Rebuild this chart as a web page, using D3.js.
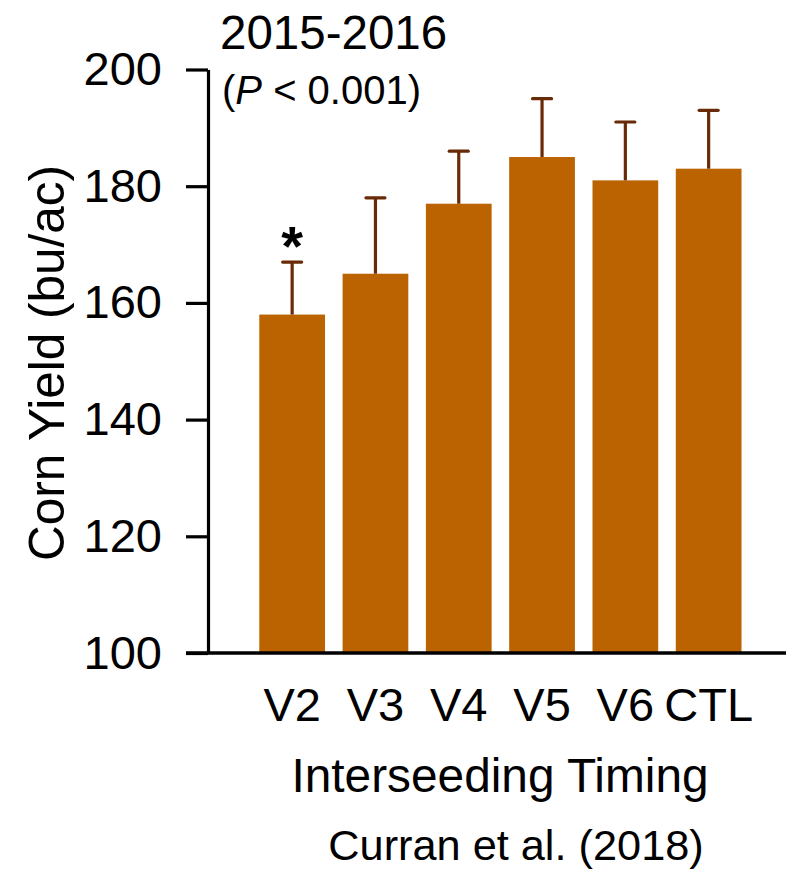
<!DOCTYPE html>
<html><head><meta charset="utf-8">
<script src="https://cdn.jsdelivr.net/npm/d3@7"></script>
<style>body{margin:0;background:#fff}svg{display:block}text{font-family:"Liberation Sans",Arial,sans-serif}</style>
</head><body><svg id="c" width="786" height="871"></svg>
<script>
const categories = ["V2","V3","V4","V5","V6","CTL"];
const yieldMeans = [158,165,177,185,181,183];
const errorUpper = [167,178,186,195,191,193];
const significant = [true,false,false,false,false,false];
const yTicks = [100,120,140,160,180,200];

const svg = d3.select("#c");
const axisX = 208, plotTop = 69.5, base = 653;
const y = d3.scaleLinear().domain([100,200]).range([base, plotTop]);
const x = d3.scaleBand().domain(categories).range([250.5, 750.3]).paddingInner(0.211).paddingOuter(0.1055);

const barColor = "#BB6301", errColor = "#692A07";

// bars
svg.append("g").selectAll("rect").data(categories).join("rect")
  .attr("x", d => x(d)).attr("width", x.bandwidth())
  .attr("y", (d,i) => y(yieldMeans[i])).attr("height", (d,i) => base - y(yieldMeans[i]))
  .attr("fill", barColor);

// error bars
const eg = svg.append("g").attr("stroke", errColor).attr("stroke-width", 3.2);
categories.forEach((c,i) => {
  const cx = x(c) + x.bandwidth()/2;
  eg.append("line").attr("x1", cx).attr("x2", cx).attr("y1", y(yieldMeans[i])).attr("y2", y(errorUpper[i]));
  eg.append("line").attr("x1", cx-9.5).attr("x2", cx+9.5).attr("y1", y(errorUpper[i])).attr("y2", y(errorUpper[i])).attr("stroke-linecap","round");
  if (significant[i]) {
    svg.append("text").attr("x", cx).attr("y", y(errorUpper[i]) + 3)
      .attr("text-anchor","middle").attr("font-size", 56).attr("font-weight","bold").text("*");
  }
});

// y axis
const ya = svg.append("g").attr("transform", `translate(${axisX},0)`)
  .call(d3.axisLeft(y).tickValues(yTicks).tickSize(22).tickSizeOuter(0).tickPadding(24));
ya.select(".domain").attr("stroke","#000").attr("stroke-width",3.2);
ya.selectAll(".tick line").attr("stroke","#000").attr("stroke-width",3.2);
ya.selectAll(".tick text").attr("font-size",47).attr("fill","#000").attr("font-family","Liberation Sans, Arial, sans-serif");

// x axis line
svg.append("line").attr("x1", axisX-22).attr("x2", 786).attr("y1", base).attr("y2", base)
  .attr("stroke","#000").attr("stroke-width",3.5);

// x tick labels
const xa = svg.append("g").attr("transform", `translate(0,${base})`)
  .call(d3.axisBottom(x).tickSize(0).tickPadding(34.5));
xa.select(".domain").remove();
xa.selectAll(".tick text").attr("font-size",47).attr("fill","#000").attr("font-family","Liberation Sans, Arial, sans-serif");

// titles
svg.append("text").attr("x",220).attr("y",49).attr("font-size",47.5).text("2015-2016");
const pt = svg.append("text").attr("x",222).attr("y",103.5).attr("font-size",40);
pt.append("tspan").text("(");
pt.append("tspan").attr("font-style","italic").text("P");
pt.append("tspan").text(" < 0.001)");

svg.append("text").attr("transform","translate(64,363) rotate(-90)").attr("text-anchor","middle")
  .attr("font-size",49.5).text("Corn Yield (bu/ac)");
svg.append("text").attr("x",500).attr("y",792).attr("text-anchor","middle").attr("font-size",47.8).text("Interseeding Timing");
svg.append("text").attr("x",516).attr("y",860).attr("text-anchor","middle").attr("font-size",43.3).text("Curran et al. (2018)");
</script></body></html>
